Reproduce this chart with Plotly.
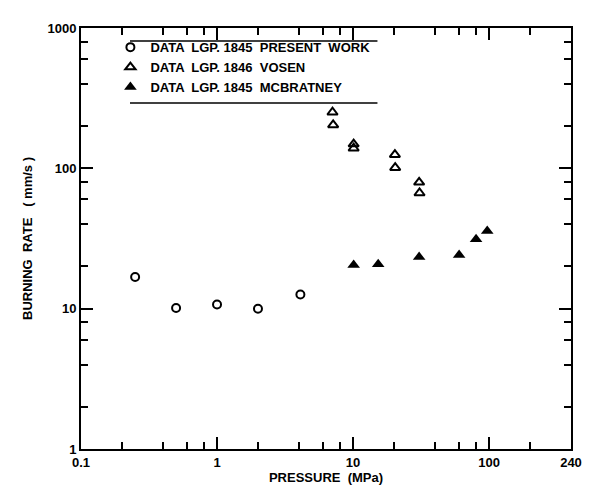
import plotly.graph_objects as go
import math

# Data (pressure in MPa, burning rate in mm/s)
present_p = [0.25, 0.5, 1.0, 2.0, 4.1]
present_r = [16.8, 10.1, 10.7, 10.0, 12.6]

vosen_p = [7.06, 7.14, 10.1, 10.1, 20.3, 20.4, 30.6, 30.8]
vosen_r = [251, 204, 149, 139, 125, 101, 79.5, 66.7]

mcb_p = [10.1, 15.3, 30.6, 60.2, 80.2, 96.9]
mcb_r = [20.5, 20.7, 23.3, 24.1, 31.2, 35.8]

x_major = [0.1, 1, 10, 100]
x_major_text = ["0.1", "1", "10", "100"]
x_end = 400          # right edge of the drawn axis (labelled 240 in the original)
x_end_text = "240"
x_minor = [0.2, 0.4, 0.6, 0.8, 2, 4, 6, 8, 20, 40, 60, 80, 200]

y_major = [1, 10, 100, 1000]
y_major_text = ["1", "10", "100", "1000"]
y_minor = [2, 4, 6, 8, 20, 40, 60, 80, 200, 400, 600, 800]

names = ["DATA  LGP. 1845  PRESENT  WORK",
         "DATA  LGP. 1846  VOSEN",
         "DATA  LGP. 1845  MCBRATNEY"]

font_family = "Liberation Sans, Arial, sans-serif"

fig = go.Figure()
fig.add_trace(go.Scatter(x=present_p, y=present_r, mode="markers", name=names[0],
                         marker=dict(symbol="circle-open", size=8, color="black",
                                     line=dict(width=2, color="black"))))
fig.add_trace(go.Scatter(x=vosen_p, y=vosen_r, mode="markers", name=names[1],
                         marker=dict(symbol="triangle-up-open", size=9, color="black",
                                     line=dict(width=2, color="black"))))
fig.add_trace(go.Scatter(x=mcb_p, y=mcb_r, mode="markers", name=names[2],
                         marker=dict(symbol="triangle-up", size=11, color="black",
                                     line=dict(width=0))))

fig.update_layout(
    width=593, height=495,
    margin=dict(l=73, r=30, t=20, b=54),
    paper_bgcolor="white", plot_bgcolor="white",
    font=dict(family=font_family, size=13, color="black"),
    showlegend=True,
    legend=dict(x=0.06, y=0.99, xanchor="left", yanchor="top",
                bgcolor="rgba(0,0,0,0)", font=dict(size=13, weight="bold"),
                tracegroupgap=0, itemwidth=30),
    xaxis=dict(
        type="log", range=[math.log10(0.1), math.log10(x_end)],
        tickvals=x_major + [x_end], ticktext=x_major_text + [x_end_text],
        ticks="inside", ticklen=12, tickwidth=1.5, tickcolor="black",
        showline=True, linecolor="black", linewidth=2, mirror="ticks",
        showgrid=False, zeroline=False, ticklabeloverflow="allow",
        minor=dict(tickvals=x_minor, ticks="inside", ticklen=7, tickwidth=1.5,
                   tickcolor="black", showgrid=False),
        tickfont=dict(size=13, weight="bold"),
        title=dict(text="PRESSURE  (MPa)", font=dict(size=13, weight="bold"), standoff=0),
    ),
    yaxis=dict(
        type="log", range=[0, 3],
        tickvals=y_major, ticktext=y_major_text,
        ticks="inside", ticklen=12, tickwidth=1.5, tickcolor="black",
        showline=True, linecolor="black", linewidth=2, mirror="ticks",
        showgrid=False, zeroline=False,
        minor=dict(tickvals=y_minor, ticks="inside", ticklen=7, tickwidth=1.5,
                   tickcolor="black", showgrid=False),
        tickfont=dict(size=13, weight="bold"),
        title=dict(text="BURNING  RATE   ( mm/s )", font=dict(size=13, weight="bold"), standoff=12),
    ),
    shapes=[
        dict(type="line", xref="paper", yref="paper", x0=0.10, x1=0.605, y0=0.969, y1=0.969,
             line=dict(color="black", width=1.5)),
        dict(type="line", xref="paper", yref="paper", x0=0.10, x1=0.605, y0=0.822, y1=0.822,
             line=dict(color="black", width=1.5)),
    ],
)

fig.write_html("out.html")
